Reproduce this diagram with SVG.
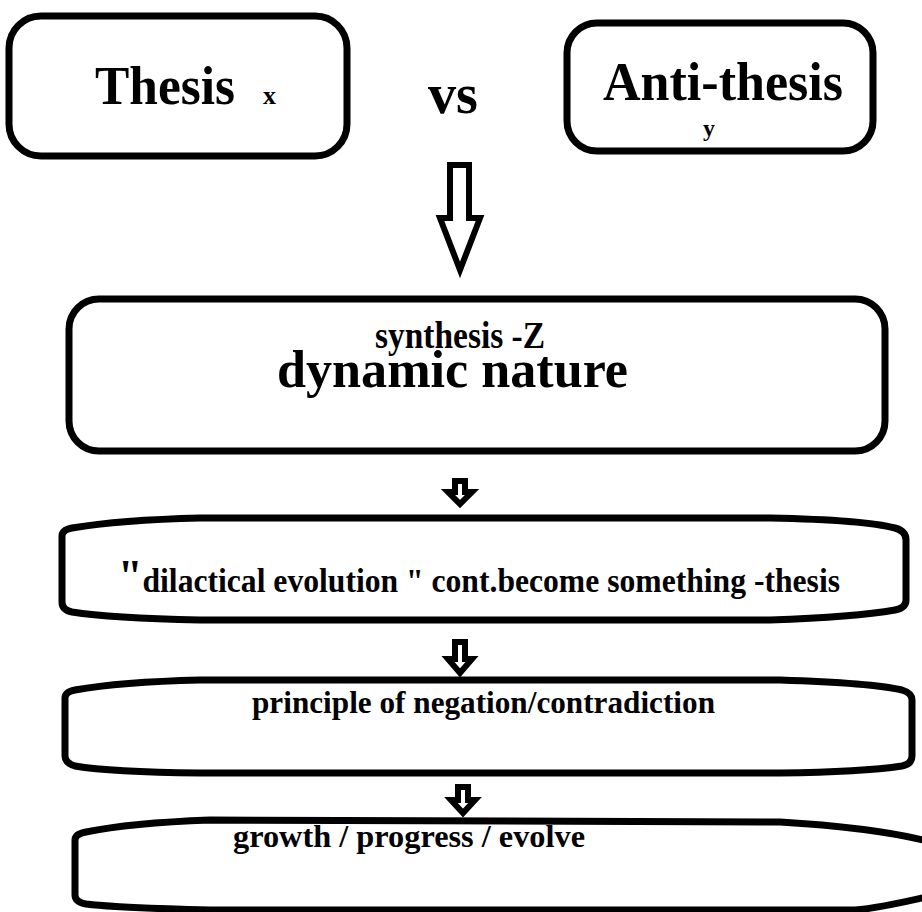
<svg xmlns="http://www.w3.org/2000/svg" width="922" height="912" viewBox="0 0 922 912">
<style>
.box{fill:#fff;stroke:#000;stroke-width:7;stroke-linejoin:round}
.arr{fill:#fff;stroke:#000;stroke-linejoin:miter}
text{font-family:"Liberation Serif","Times New Roman",serif;font-weight:bold;fill:#000}
</style>
<rect width="922" height="912" fill="#fff"/>
<g id="thesis">
<rect class="box" x="9" y="16" width="338" height="140" rx="32"/>
<text x="95" y="104" font-size="54" textLength="140" lengthAdjust="spacingAndGlyphs">Thesis</text>
<text x="263" y="104" font-size="26" textLength="13" lengthAdjust="spacingAndGlyphs">x</text>
</g>
<g id="vs">
<text x="428" y="113" font-size="56" textLength="50" lengthAdjust="spacingAndGlyphs">vs</text>
</g>
<g id="antithesis">
<rect class="box" x="567" y="23" width="306" height="128" rx="30"/>
<text x="603" y="100" font-size="54" textLength="240" lengthAdjust="spacingAndGlyphs">Anti-thesis</text>
<text x="703" y="136" font-size="24" textLength="12" lengthAdjust="spacingAndGlyphs">y</text>
</g>
<g id="synthesis">
<rect class="box" x="69" y="299" width="816" height="152" rx="30"/>
<text x="375" y="348" font-size="38" textLength="170" lengthAdjust="spacingAndGlyphs">synthesis -Z</text>
<text x="277" y="387" font-size="52" textLength="351" lengthAdjust="spacingAndGlyphs">dynamic nature</text>
</g>
<g id="dialectical">
<path class="box" d="M 62 536 Q 62 530 72 528 Q 120 520 200 518 L 770 518 Q 865 520 895 528 Q 906 531 906 540 L 906 600 Q 906 608 895 610 Q 855 617 770 620 L 200 620 Q 110 618 72 612 Q 62 610 62 602 Z"/>
<text x="118" y="592" font-size="33" textLength="722" lengthAdjust="spacingAndGlyphs"><tspan font-size="46">"</tspan>dilactical evolution " cont.become something -thesis</text>
</g>
<g id="negation">
<path class="box" d="M 65 698 Q 65 692 75 690 Q 120 682 200 680 L 780 680 Q 872 683 902 690 Q 912 693 912 700 L 912 756 Q 912 764 902 766 Q 862 772 780 773 L 200 773 Q 110 772 75 766 Q 65 763 65 756 Z"/>
<text x="252" y="713" font-size="31" textLength="463" lengthAdjust="spacingAndGlyphs">principle of negation/contradiction</text>
</g>
<g id="growth">
<path class="box" d="M 75 840 Q 75 834 86 832 Q 130 823 210 820 L 780 822 Q 880 828 935 843 L 935 895 Q 880 908 855 910 L 210 910 Q 120 908 86 904 Q 75 902 75 895 Z"/>
<text x="233" y="847" font-size="31" textLength="352" lengthAdjust="spacingAndGlyphs">growth / progress / evolve</text>
</g>
<g id="connectors">
<polygon class="arr" stroke-width="6" points="450,165 469,165 469,218 480,218 460,270 440,218 450,218"/>
<polygon class="arr" stroke-width="6" points="455,481 465,481 465,492 472,492 460,504 448,492 455,492"/>
<polygon class="arr" stroke-width="6" points="455,642 465,642 465,659 472,659 460,673 448,659 455,659"/>
<polygon class="arr" stroke-width="6" points="458,787 468,787 468,800 475,800 463,813 451,800 458,800"/>
</g>
</svg>
